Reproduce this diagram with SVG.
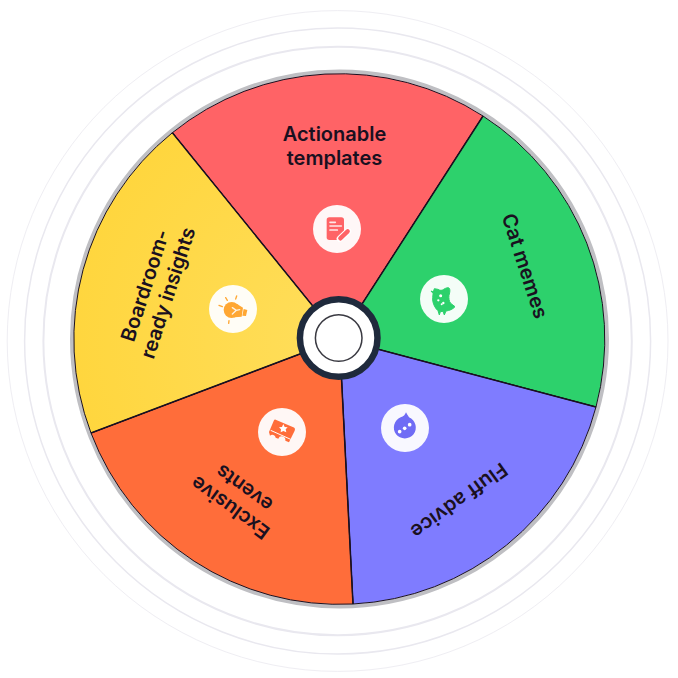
<svg xmlns="http://www.w3.org/2000/svg" width="678" height="678" viewBox="0 0 678 678">
<style>
.ring{fill:none;stroke:#e9e8ef}
.slice{stroke:#1a1020;stroke-width:1;stroke-linejoin:round}
.divider{stroke:#1a1020;stroke-width:1.5;fill:none}
.label{font-family:"Inter","Liberation Sans",sans-serif;font-weight:600;font-size:20px;fill:#1a1020;text-anchor:middle}
.disc{fill:#fff;fill-opacity:.95}
</style>
<defs>
<radialGradient id="yellow" gradientUnits="userSpaceOnUse" cx="339" cy="339" r="265">
<stop offset="0" stop-color="#FFDE5C"/><stop offset="1" stop-color="#FFD63E"/>
</radialGradient>
</defs>
<rect width="678" height="678" fill="#fff"/>
<g id="rings">
<circle class="ring" cx="337.6" cy="341" r="330.4" stroke-width="1" style="stroke:#efeef3"/>
<circle class="ring" cx="337.6" cy="341" r="313" stroke-width="1.5"/>
<circle class="ring" cx="337.6" cy="341" r="294.2" stroke-width="2"/>
<circle cx="339.5" cy="339" r="267.5" fill="none" stroke="#bfbfc3" stroke-width="4"/>
</g>
<g id="node-templates">
<path class="slice" fill="#FF6366" d="M339.5 339L172.4 132.7A265.5 265.5 0 0 1 483 116Z"/>
<text class="label"><tspan x="334.5" y="141">Actionable</tspan><tspan x="334.5" y="165">templates</tspan></text>
<circle class="disc" cx="337" cy="229" r="24"/>
<g transform="translate(280 190) scale(.3333)">
<rect x="140" y="82" width="52" height="68" rx="8" fill="#FF6366"/>
<path d="M150 97H166M150 108H184M150 120H172" stroke="#fff" stroke-opacity=".85" stroke-width="5" stroke-linecap="round" fill="none"/>
<path d="M180 146L204 124" stroke="#fff" stroke-width="20" stroke-linecap="round"/>
<path d="M181 145L203 124" stroke="#FF6366" stroke-width="13" stroke-linecap="round"/>
</g>
</g>
<g id="node-cat-memes">
<path class="slice" fill="#2DD16C" d="M339.5 339L483 116A265.5 265.5 0 0 1 596 407Z"/>
<text class="label" transform="rotate(72 339 339)" x="327" y="146.5">Cat memes</text>
<circle class="disc" cx="444" cy="299" r="24"/>
<g transform="translate(400 260) scale(.3333)">
<path fill="#2DD16C" stroke="#2DD16C" stroke-width="3" stroke-linejoin="round" d="M93 93L100 96L103 86L114 88C120 92 126 92 131 88C137 84 144 82 147 84C151 88 150 96 147 106C146 114 147 124 152 130L165 140C160 147 148 152 138 153L133 165L129 154L121 155L118 165L114 152C106 146 99 132 98 120C98 110 99 104 99 100Z"/>
<g fill="#fff"><circle cx="122" cy="107" r="4.5"/><circle cx="115" cy="121" r="3.5"/><circle cx="130" cy="129" r="3.5"/><circle cx="125" cy="133" r="3"/></g>
</g>
</g>
<g id="node-fluff-advice">
<path class="slice" fill="#7F7CFF" d="M339.5 339L596 407A265.5 265.5 0 0 1 353 604Z"/>
<text class="label" transform="rotate(144 339 339)" x="337" y="144.5">Fluff advice</text>
<circle class="disc" cx="405" cy="428" r="24"/>
<g transform="translate(360 390) scale(.3333)">
<path fill="#6f6cf5" d="M138 67C141 72 143 76 147 82A33 33 0 1 1 122 82C131 80 135 74 138 67Z"/>
<g fill="#fff"><circle cx="119" cy="125" r="5.5"/><circle cx="134" cy="115" r="5.5"/><circle cx="149" cy="104" r="5.5"/></g>
</g>
</g>
<g id="node-exclusive-events">
<path class="slice" fill="#FF6D3A" d="M339.5 339L353 604A265.5 265.5 0 0 1 91 433Z"/>
<text class="label" transform="rotate(216 339 339)"><tspan x="328" y="145.5">Exclusive</tspan><tspan x="328" y="169.5">events</tspan></text>
<circle class="disc" cx="282" cy="432" r="24"/>
<g transform="translate(240 395) scale(.3333)">
<path fill="#FF6D3A" d="M107 74L160 97Q167 100 164 107L147 142L136 137A11 11 0 0 0 115 131L107 128A10 10 0 0 0 90 122L87 111L101 78Q103 73 107 74Z"/>
<path d="M92 106L152 133" stroke="#fff" stroke-width="3"/>
<path fill="#fff" d="M130 87L134 96L143 97L137 103L139 112L130 108L122 112L123 103L117 97L126 96Z"/>
</g>
</g>
<g id="node-boardroom-insights">
<path class="slice" fill="url(#yellow)" d="M339.5 339L91 433A265.5 265.5 0 0 1 172.4 132.7Z"/>
<text class="label" transform="rotate(288 339 339)"><tspan x="330" y="145">Boardroom-</tspan><tspan x="330" y="169">ready insights</tspan></text>
<circle class="disc" cx="233" cy="309" r="24"/>
<g transform="translate(195 270) scale(.3333)">
<circle cx="110" cy="120" r="24" fill="#FFA733"/>
<path d="M125 101L144 113L140 140L118 142Z" fill="#FFA733"/>
<path d="M146 117L157 120L153 138L142 137Z" fill="#FFA733"/>
<path d="M112 113L124 121L112 132M124 121L134 119" stroke="#fff" stroke-opacity=".85" stroke-width="4" fill="none" stroke-linecap="round"/>
<path d="M72 106L82 110M92 83L97 91M125 78L122 87M102 152L101 160" stroke="#FFA733" stroke-width="4" stroke-linecap="round"/>
</g>
</g>
<g id="connectors">
<path class="divider" d="M339.5 339L172.4 132.7"/>
<path class="divider" d="M339.5 339L483 116"/>
<path class="divider" d="M339.5 339L596 407"/>
<path class="divider" d="M339.5 339L353 604"/>
<path class="divider" d="M339.5 339L91 433"/>
</g>
<g id="node-hub">
<circle cx="338.7" cy="338" r="38.8" fill="#fff" stroke="#1f2a3c" stroke-width="6.5"/>
<circle cx="338.7" cy="338" r="23.3" fill="#fff" stroke="#3a3a42" stroke-width="1.5"/>
</g>
</svg>
